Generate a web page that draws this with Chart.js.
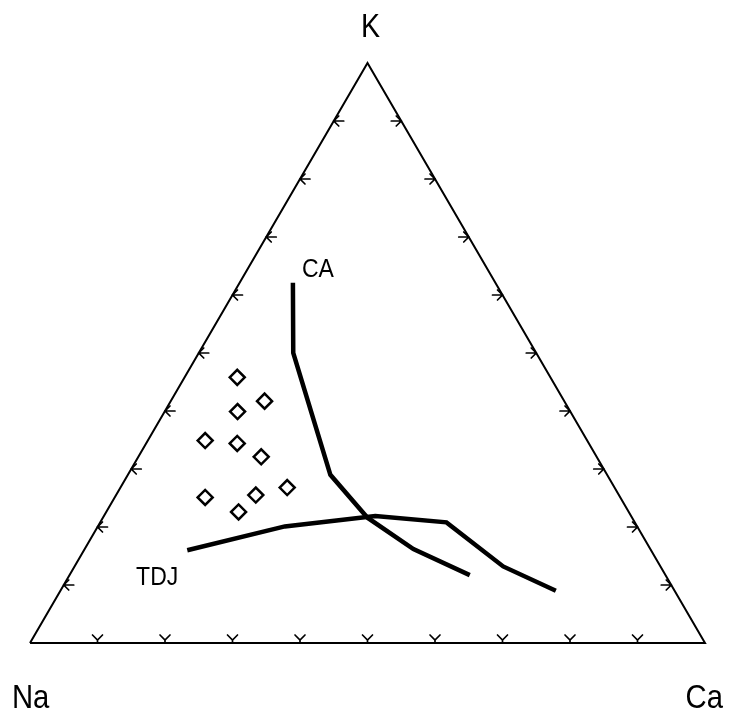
<!DOCTYPE html>
<html>
<head>
<meta charset="utf-8">
<title>Na - K - Ca ternary</title>
<script src="https://cdn.jsdelivr.net/npm/chart.js@4.4.1/dist/chart.umd.min.js"></script>
<style>
    html, body { margin: 0; padding: 0; background: #fff; }
    #wrap { width: 730px; height: 718px; }
</style>
</head>
<body>
<div id="wrap"><canvas id="ternaryChart" width="730" height="718"></canvas></div>
<script>
// Corner labels (bottom-left, top, bottom-right)
const cornerLabels = ['Na', 'K', 'Ca'];

// Samples, fractions of K and Ca (Na = 1 - K - Ca)
const sampleK  = [0.458, 0.417, 0.399, 0.349, 0.344, 0.321, 0.268, 0.251, 0.255, 0.226];
const sampleCa = [0.078, 0.139, 0.108, 0.085, 0.135, 0.182, 0.247, 0.134, 0.207, 0.196];

// Calc-alkaline trend (CA)
const caK  = [0.621, 0.500, 0.290, 0.216, 0.162, 0.117];
const caCa = [0.079, 0.140, 0.300, 0.392, 0.487, 0.593];

// Trondhjemite trend (TDJ)
const tdjK  = [0.160, 0.201, 0.219, 0.208, 0.132, 0.090];
const tdjCa = [0.153, 0.277, 0.402, 0.513, 0.635, 0.734];

// Edge tick marks every 10 %
const tickSteps = [0.1, 0.2, 0.3, 0.4, 0.5, 0.6, 0.7, 0.8, 0.9];

const H = Math.sqrt(3) / 2;
const FONT = '"Liberation Sans Narrow", "Liberation Sans", Arial, sans-serif';

// ternary (K, Ca) -> cartesian x/y
function toXY(k, ca) {
    return { x: ca + k / 2, y: k * H };
}

function seriesPoints(kArr, caArr) {
    return kArr.map((k, i) => toXY(k, caArr[i]));
}

const outline = [toXY(0, 0), toXY(1, 0), toXY(0, 1), toXY(0, 0)];

// text squeezed a little horizontally, like the original lettering
function squeezedText(ctx, text, x, y, align, sx) {
    const w = ctx.measureText(text).width * sx;
    let left = x;
    if (align === 'center') left = x - w / 2;
    if (align === 'right') left = x - w;
    ctx.save();
    ctx.translate(left, y);
    ctx.scale(sx, 1);
    ctx.textAlign = 'left';
    ctx.fillText(text, 0, 0);
    ctx.restore();
}

// Draws the edge ticks and the text labels through the chart scales
const ternaryDecor = {
    id: 'ternaryDecor',
    afterDatasetsDraw(chart) {
        const ctx = chart.ctx;
        const xs = chart.scales.x;
        const ys = chart.scales.y;
        const px = p => ({ x: xs.getPixelForValue(p.x), y: ys.getPixelForValue(p.y) });

        ctx.save();
        ctx.strokeStyle = '#000';
        ctx.lineWidth = 1.7;
        ctx.lineCap = 'round';

        tickSteps.forEach(t => {
            // left edge (Na-K): arrow pointing left
            let p = px(toXY(t, 0));
            ctx.beginPath();
            ctx.moveTo(p.x, p.y); ctx.lineTo(p.x + 10, p.y);
            ctx.moveTo(p.x + 5, p.y - 5); ctx.lineTo(p.x, p.y); ctx.lineTo(p.x + 5, p.y + 5);
            ctx.stroke();

            // right edge (K-Ca): arrow pointing right
            p = px(toXY(t, 1 - t));
            ctx.beginPath();
            ctx.moveTo(p.x, p.y); ctx.lineTo(p.x - 10, p.y);
            ctx.moveTo(p.x - 5, p.y - 5); ctx.lineTo(p.x, p.y); ctx.lineTo(p.x - 5, p.y + 5);
            ctx.stroke();

            // bottom edge (Na-Ca): arrow pointing down
            p = px(toXY(0, t));
            ctx.beginPath();
            ctx.moveTo(p.x - 5, p.y - 8); ctx.lineTo(p.x, p.y - 3); ctx.lineTo(p.x + 5, p.y - 8);
            ctx.moveTo(p.x, p.y - 3); ctx.lineTo(p.x, p.y);
            ctx.stroke();
        });

        ctx.fillStyle = '#000';
        ctx.textBaseline = 'alphabetic';

        // corner labels
        ctx.font = '34px ' + FONT;
        const na = px(toXY(0, 0));
        const k = px(toXY(1, 0));
        const ca = px(toXY(0, 1));
        squeezedText(ctx, cornerLabels[1], k.x + 3, k.y - 26, 'center', 0.84);
        squeezedText(ctx, cornerLabels[0], na.x - 18, na.y + 65, 'left', 0.86);
        squeezedText(ctx, cornerLabels[2], ca.x + 18, ca.y + 65, 'right', 0.86);

        // trend labels
        ctx.font = '25px ' + FONT;
        const caTop = px(toXY(caK[0], caCa[0]));
        squeezedText(ctx, 'CA', caTop.x + 9, caTop.y - 6, 'left', 0.92);
        const tdjStart = px(toXY(tdjK[0], tdjCa[0]));
        squeezedText(ctx, 'TDJ', tdjStart.x - 9, tdjStart.y + 35, 'right', 0.92);

        ctx.restore();
    }
};

const lineStyle = {
    showLine: true,
    borderColor: '#000',
    pointRadius: 0,
    fill: false,
    tension: 0,
    clip: false
};

new Chart(document.getElementById('ternaryChart'), {
    type: 'scatter',
    data: {
        datasets: [{
            label: 'outline',
            data: outline,
            ...lineStyle,
            borderWidth: 2
        }, {
            label: 'CA',
            data: seriesPoints(caK, caCa),
            ...lineStyle,
            borderWidth: 4.5
        }, {
            label: 'TDJ',
            data: seriesPoints(tdjK, tdjCa),
            ...lineStyle,
            borderWidth: 4.5
        }, {
            label: 'samples',
            data: seriesPoints(sampleK, sampleCa),
            pointStyle: 'rectRot',
            pointRadius: 7.5,
            pointBorderWidth: 2.5,
            pointBorderColor: '#000',
            pointBackgroundColor: '#fff',
            showLine: false,
            clip: false
        }]
    },
    options: {
        responsive: false,
        animation: false,
        layout: {
            padding: { left: 30, right: 25, top: 63, bottom: 75 }
        },
        plugins: {
            legend: { display: false },
            tooltip: { enabled: false }
        },
        scales: {
            x: { type: 'linear', min: 0, max: 1, display: false },
            y: { type: 'linear', min: 0, max: H, display: false }
        }
    },
    plugins: [ternaryDecor]
});
</script>
</body>
</html>
